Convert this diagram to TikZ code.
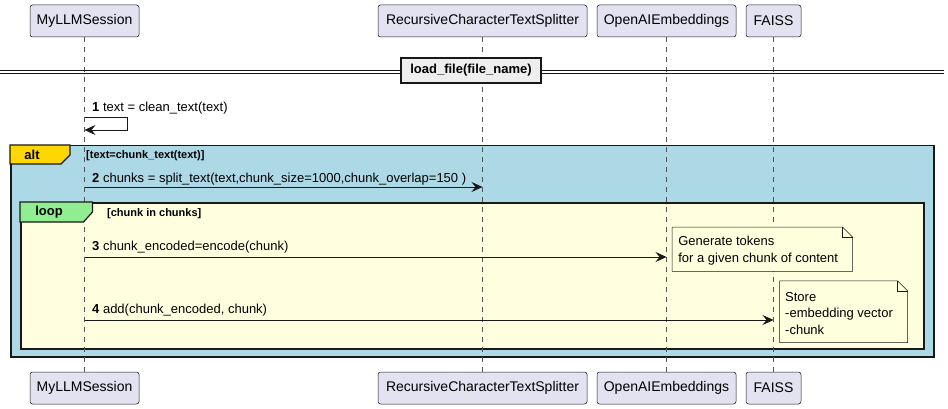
\documentclass[tikz,border=0pt]{standalone}
\usepackage{fontspec}
\setmainfont{Liberation Sans}
\usetikzlibrary{arrows.meta,calc}
\definecolor{partfill}{HTML}{E2E2F0}
\definecolor{ink}{HTML}{181818}
\definecolor{lifegrey}{HTML}{555555}
\definecolor{altblue}{HTML}{ADD8E6}
\definecolor{altgold}{HTML}{FFD700}
\definecolor{loopyellow}{HTML}{FFFFE0}
\definecolor{loopgreen}{HTML}{90EE90}
\definecolor{notefill}{HTML}{FEFFDD}
\definecolor{divfill}{HTML}{EEEEEE}
\begin{document}
\begin{tikzpicture}[x=1pt,y=-1pt,
  part/.style={draw=ink, fill=partfill, rounded corners=2.5pt, line width=0.5pt,
    minimum height=32pt, inner sep=0pt, font=\fontsize{14}{16}\selectfont},
  life/.style={draw=lifegrey, line width=0.5pt, dash pattern=on 5pt off 5pt},
  msg/.style={draw=ink, line width=0.8pt, -{Stealth[length=11pt,width=10pt,inset=4pt]}},
  lbl/.style={anchor=west, inner sep=0pt, font=\fontsize{13}{15}\selectfont},
  grp/.style={draw=ink, line width=1.5pt, inner sep=0pt, anchor=north west},
  tab/.style={draw=ink, line width=1.2pt},
  tablbl/.style={inner sep=0pt, font=\bfseries\fontsize{13}{15}\selectfont},
  guard/.style={anchor=west, inner sep=0pt, font=\bfseries\fontsize{11}{13}\selectfont},
  notebox/.style={draw=none, inner sep=0pt},
  noteshape/.style={draw=ink, fill=notefill, line width=0.5pt},
  notetext/.style={anchor=west, inner sep=0pt, align=left, font=\fontsize{13}{17}\selectfont},
  divbox/.style={draw=ink, fill=divfill, line width=1.5pt, inner sep=0pt,
    minimum width=140pt, minimum height=25pt, font=\bfseries\fontsize{13}{15}\selectfont}
]
\useasboundingbox (0,0) rectangle (948,409);

% participants
\node[part, minimum width=109pt] (p1) at (84.5,21) {MyLLMSession};
\node[part, minimum width=209pt] (p2) at (482.5,21) {RecursiveCharacterTextSplitter};
\node[part, minimum width=139pt] (p3) at (666.5,21) {OpenAIEmbeddings};
\node[part, minimum width=55pt] (p4) at (773.5,21) {FAISS};
\node[part, minimum width=109pt] (q1) at (84.5,388) {MyLLMSession};
\node[part, minimum width=209pt] (q2) at (482.5,388) {RecursiveCharacterTextSplitter};
\node[part, minimum width=139pt] (q3) at (666.5,388) {OpenAIEmbeddings};
\node[part, minimum width=55pt] (q4) at (773.5,388) {FAISS};

% groups
\node[grp, fill=altblue, minimum width=923pt, minimum height=211pt] (alt) at (10,145) {};
\node[grp, fill=loopyellow, minimum width=903pt, minimum height=146pt] (loop) at (20,202) {};

% lifelines
\draw[life] (p1.south) -- (q1.north);
\draw[life] (p2.south) -- (q2.north);
\draw[life] (p3.south) -- (q3.north);
\draw[life] (p4.south) -- (q4.north);

% tabs
\draw[tab, fill=altgold] (alt.north west) -- (70,145) -- (70,155) -- (61,164) -- (10,164) -- cycle;
\node[tablbl] (altlbl) at (32,155) {alt};
\node[guard] (altguard) at (86,156) {[text=chunk\_text(text)]};
\draw[tab, fill=loopgreen] (loop.north west) -- (92.5,202) -- (92.5,212) -- (83.5,222) -- (20,222) -- cycle;
\node[tablbl] (looplbl) at (49,212.5) {loop};
\node[guard] (loopguard) at (107,214) {[chunk in chunks]};

% divider
\draw[ink, line width=0.7pt] (0,70) -- (944,70);
\draw[ink, line width=0.7pt] (0,73) -- (944,73);
\node[divbox] (div) at (471,70.5) {load\_file(file\_name)};

% message 1 (self)
\node[lbl] (l1) at (92,108) {\textbf{1} text = clean\_text(text)};
\draw[msg] (p1.south |- 0,117) -- (127,117) -- (127,130) -- (p1.south |- 0,130);

% message 2
\node[lbl] (l2) at (92,179) {\textbf{2} chunks = split\_text(text,chunk\_size=1000,chunk\_overlap=150 )};
\draw[msg] (p1.south |- 0,187) -- (p2.south |- 0,187);

% message 3
\node[lbl] (l3) at (92,247.5) {\textbf{3} chunk\_encoded=encode(chunk)};
\draw[msg] (p1.south |- 0,257) -- (p3.south |- 0,257);

% note 1
\node[notebox, minimum width=180pt, minimum height=44pt] (n1) at (762.3,249.2) {};
\draw[noteshape] (n1.north west) -- ($(n1.north east)+(-10,0)$) -- ($(n1.north east)+(0,10)$) -- (n1.south east) -- (n1.south west) -- cycle;
\draw[draw=ink, line width=0.5pt] ($(n1.north east)+(-10,0)$) -- ++(0,10) -- ++(10,0);
\node[notetext] (t1) at ($(n1.west)+(6,1)$) {Generate tokens\\for a given chunk of content};

% message 4
\node[lbl] (l4) at (92,310.5) {\textbf{4} add(chunk\_encoded, chunk)};
\draw[msg] (p1.south |- 0,320) -- (p4.south |- 0,320);

% note 2
\node[notebox, minimum width=127.6pt, minimum height=61.3pt] (n2) at (843.5,311.7) {};
\draw[noteshape] (n2.north west) -- ($(n2.north east)+(-10,0)$) -- ($(n2.north east)+(0,10)$) -- (n2.south east) -- (n2.south west) -- cycle;
\draw[draw=ink, line width=0.5pt] ($(n2.north east)+(-10,0)$) -- ++(0,10) -- ++(10,0);
\node[notetext, font=\fontsize{13}{16.5}\selectfont] (t2) at ($(n2.west)+(5.5,1.8)$) {Store\\-embedding vector\\-chunk};
\end{tikzpicture}
\end{document}
